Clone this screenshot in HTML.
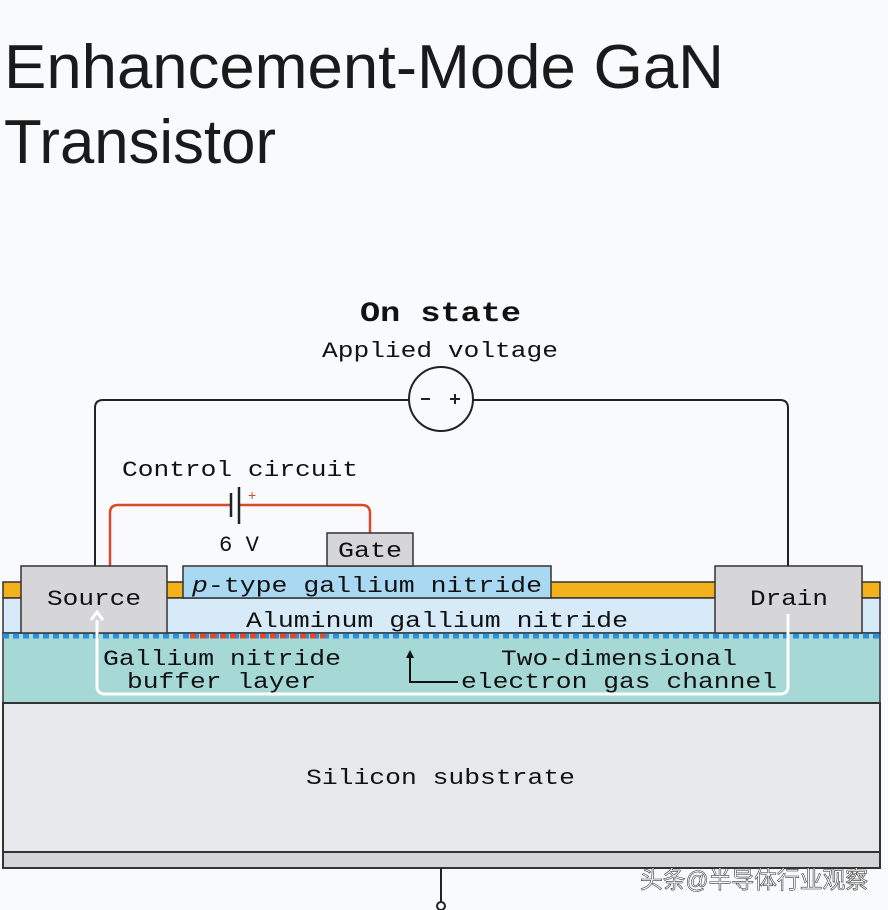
<!DOCTYPE html>
<html><head><meta charset="utf-8"><style>
html,body{margin:0;padding:0;background:#f9fafc;}
svg{display:block;}
.t{font-family:"Liberation Sans",sans-serif;fill:#1a1a1a;}
.m{font-family:"Liberation Mono",monospace;fill:#111;}
</style></head><body>
<svg width="888" height="910" viewBox="0 0 888 910" xmlns="http://www.w3.org/2000/svg">
<rect width="888" height="910" fill="#f9fafc"/>
<text class="t" x="4" y="88" font-size="62" textLength="720" lengthAdjust="spacingAndGlyphs">Enhancement-Mode GaN</text>
<text class="t" x="4" y="163" font-size="62" textLength="272" lengthAdjust="spacingAndGlyphs">Transistor</text>

<text class="m" x="360" y="321" font-size="28" font-weight="bold" textLength="161" lengthAdjust="spacingAndGlyphs">On state</text>
<text class="m" x="322" y="357" font-size="22" textLength="236" lengthAdjust="spacingAndGlyphs">Applied voltage</text>

<path d="M95 566 V408 Q95 400 103 400 H409 M473 400 H780 Q788 400 788 408 V566" fill="none" stroke="#222" stroke-width="2"/>
<circle cx="441" cy="399" r="32" fill="#f9fafc" stroke="#222" stroke-width="2"/>
<line x1="421" y1="399" x2="430" y2="399" stroke="#222" stroke-width="2"/>
<line x1="450" y1="399" x2="460" y2="399" stroke="#222" stroke-width="2"/>
<line x1="455" y1="394" x2="455" y2="404" stroke="#222" stroke-width="2"/>

<text class="m" x="122" y="476" font-size="22" textLength="236" lengthAdjust="spacingAndGlyphs">Control circuit</text>
<path d="M110 566 V513 Q110 505 118 505 H231 M239 505 H362 Q370 505 370 513 V533" fill="none" stroke="#d9482a" stroke-width="2.5"/>
<line x1="231" y1="493" x2="231" y2="517" stroke="#222" stroke-width="2.5"/>
<line x1="239" y1="487" x2="239" y2="524" stroke="#222" stroke-width="2.5"/>
<text x="248" y="500" font-family="Liberation Sans,sans-serif" font-size="14" fill="#d9482a">+</text>
<text class="m" x="219" y="551" font-size="22" textLength="40" lengthAdjust="spacingAndGlyphs">6 V</text>

<rect x="3" y="582" width="877" height="16" fill="#f3b21b" stroke="#333" stroke-width="1.5"/>
<rect x="3" y="598" width="877" height="35" fill="#d6eaf8" stroke="#333" stroke-width="1.5"/>
<rect x="3" y="633" width="877" height="70" fill="#a6d9d6" stroke="#333" stroke-width="1.5"/>
<line x1="3" y1="636" x2="880" y2="636" stroke="#2a8fdc" stroke-width="5" stroke-dasharray="6 4"/>
<line x1="190" y1="636" x2="325" y2="636" stroke="#e04a2a" stroke-width="5" stroke-dasharray="6 4"/>
<rect x="3" y="703" width="877" height="149" fill="#e7e8eb" stroke="#333" stroke-width="2"/>
<rect x="3" y="852" width="877" height="16" fill="#d3d5d8" stroke="#333" stroke-width="2"/>
<line x1="441" y1="868" x2="441" y2="902" stroke="#222" stroke-width="2"/>
<circle cx="441" cy="906" r="4" fill="#f9fafc" stroke="#222" stroke-width="2"/>
<text class="m" x="306" y="784" font-size="22" textLength="269" lengthAdjust="spacingAndGlyphs">Silicon substrate</text>

<rect x="183" y="566" width="368" height="32" fill="#a9d8f3" stroke="#333" stroke-width="1.5"/>
<rect x="327" y="533" width="86" height="33" fill="#d6d6d8" stroke="#333" stroke-width="1.5"/>
<rect x="21" y="566" width="146" height="67" fill="#d6d6d8" stroke="#333" stroke-width="1.5"/>
<rect x="715" y="566" width="147" height="67" fill="#d6d6d8" stroke="#333" stroke-width="1.5"/>

<text class="m" x="338" y="557" font-size="22" textLength="64" lengthAdjust="spacingAndGlyphs">Gate</text>
<text class="m" x="47" y="605" font-size="22" textLength="94" lengthAdjust="spacingAndGlyphs">Source</text>
<text class="m" x="750" y="605" font-size="22" textLength="78" lengthAdjust="spacingAndGlyphs">Drain</text>
<text class="m" x="192" y="592" font-size="22" textLength="350" lengthAdjust="spacingAndGlyphs"><tspan font-style="italic">p</tspan>-type gallium nitride</text>
<text class="m" x="246" y="627" font-size="22" textLength="382" lengthAdjust="spacingAndGlyphs">Aluminum gallium nitride</text>

<path d="M97 620 V686 Q97 694 105 694 H780 Q788 694 788 686 V614" fill="none" stroke="#fff" stroke-width="3"/>
<path d="M91 620 L97 612 L103 620" fill="none" stroke="#fff" stroke-width="3"/>

<text class="m" x="103" y="665" font-size="22" textLength="238" lengthAdjust="spacingAndGlyphs">Gallium nitride</text>
<text class="m" x="127" y="688" font-size="22" textLength="189" lengthAdjust="spacingAndGlyphs">buffer layer</text>
<text class="m" x="501" y="665" font-size="22" textLength="236" lengthAdjust="spacingAndGlyphs">Two-dimensional</text>
<text class="m" x="461" y="688" font-size="22" textLength="316" lengthAdjust="spacingAndGlyphs">electron gas channel</text>
<path d="M410 652 V682 H458" fill="none" stroke="#111" stroke-width="2"/>
<path d="M406 658 L410 650 L414 658 Z" fill="#111"/>

<text x="640" y="888" font-family="'Liberation Sans','Noto Sans CJK SC',sans-serif" font-size="24" fill="#fff" stroke="#333" stroke-width="0.6" textLength="228" lengthAdjust="spacingAndGlyphs">头条@半导体行业观察</text>
</svg>
</body></html>
